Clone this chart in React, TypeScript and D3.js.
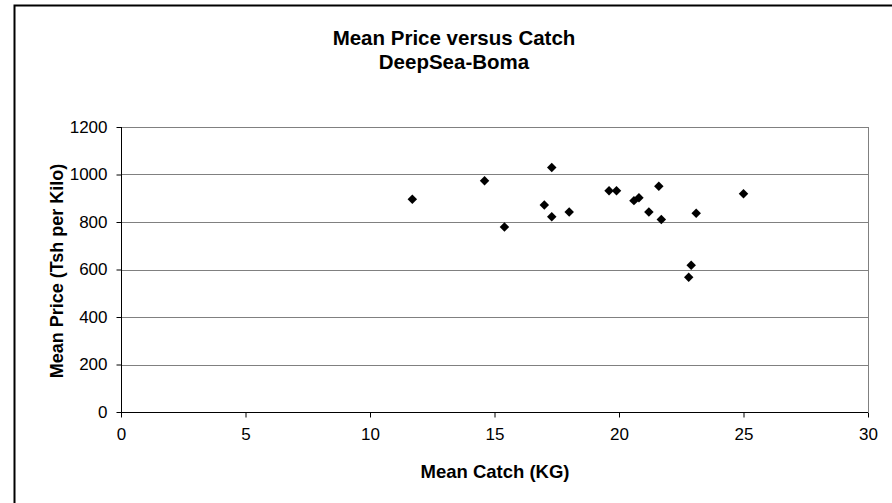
import React, { useEffect, useRef } from "react";
import * as d3 from "d3";

// mean catch (kg) and mean price (Tsh per kilo) per observation
const catchKg = [11.7, 14.6, 15.4, 17.3, 17.0, 17.3, 18.0, 19.6, 19.9, 20.6, 20.8, 21.2, 21.6, 21.7, 22.8, 22.9, 23.1, 25.0];
const priceTsh = [896, 974, 779, 1029, 872, 822, 842, 932, 932, 890, 902, 842, 951, 811, 567, 618, 837, 919];

const xTicks = [0, 5, 10, 15, 20, 25, 30];
const yTicks = [0, 200, 400, 600, 800, 1000, 1200];

const titleLines = ["Mean Price versus Catch", "DeepSea-Boma"];

const W = 892;
const H = 503;

export default function App() {
    const ref = useRef<SVGSVGElement>(null);

    useEffect(() => {
        const svg = d3.select(ref.current);
        svg.selectAll("*").remove();

        const margin = { left: 121, right: 24, top: 127, bottom: 91 };
        const w = W - margin.left - margin.right;
        const h = H - margin.top - margin.bottom;
        const font = "'Liberation Sans', Arial, sans-serif";

        // outer chart border (runs off the bottom/right edge)
        svg.append("rect")
            .attr("x", 14.5).attr("y", 5.5)
            .attr("width", W + 20).attr("height", H + 20)
            .attr("fill", "white")
            .attr("stroke", "black")
            .attr("stroke-width", 2);

        const xScale = d3.scaleLinear().domain([0, 30]).range([0, w]);
        const yScale = d3.scaleLinear().domain([0, 1200]).range([h, 0]);

        const g = svg.append("g").attr("transform", `translate(${margin.left}, ${margin.top})`);

        // gridlines
        g.selectAll("line.grid")
            .data(yTicks.filter(t => t > 0))
            .enter()
            .append("line")
            .attr("class", "grid")
            .attr("x1", 0).attr("x2", w)
            .attr("y1", d => Math.round(yScale(d)) + 0.5)
            .attr("y2", d => Math.round(yScale(d)) + 0.5)
            .attr("stroke", "#808080");

        // plot area right edge
        g.append("line")
            .attr("x1", w + 0.5).attr("x2", w + 0.5)
            .attr("y1", 0).attr("y2", h)
            .attr("stroke", "#808080");

        const xAxis = d3.axisBottom(xScale).tickValues(xTicks).tickFormat(d3.format("d")).tickSize(5).tickPadding(15);
        const yAxis = d3.axisLeft(yScale).tickValues(yTicks).tickFormat(d3.format("d")).tickSize(5).tickPadding(9);

        const xg = g.append("g")
            .attr("transform", `translate(0, ${Math.round(h) + 0.5})`)
            .call(xAxis);
        const yg = g.append("g")
            .attr("transform", "translate(0.5, 0)")
            .call(yAxis);

        [xg, yg].forEach(a => {
            a.select(".domain").attr("stroke", "black");
            a.selectAll(".tick line").attr("stroke", "black");
            a.selectAll("text")
                .attr("fill", "black")
                .style("font-family", font)
                .style("font-size", "17px");
        });
        xg.selectAll("text").attr("dy", "0.72em").attr("y", 15);
        xg.select(".domain").attr("d", `M0,0H${w}`);
        yg.select(".domain").attr("d", `M0,0V${h}`);

        // points
        const pts = catchKg.map((c, i) => ({ x: c, y: priceTsh[i] }));
        g.selectAll("path.pt")
            .data(pts)
            .enter()
            .append("path")
            .attr("class", "pt")
            .attr("d", d3.symbol(d3.symbolSquare, 45)())
            .attr("transform", d => `translate(${xScale(d.x)}, ${yScale(d.y)}) rotate(45)`)
            .attr("fill", "black");

        // titles
        svg.selectAll("text.title")
            .data(titleLines)
            .enter()
            .append("text")
            .attr("class", "title")
            .attr("x", 454)
            .attr("y", (d, i) => 45 + i * 24)
            .attr("text-anchor", "middle")
            .style("font-family", font)
            .style("font-weight", "bold")
            .style("font-size", "20.5px")
            .text(d => d);

        svg.append("text")
            .attr("x", 495)
            .attr("y", 478)
            .attr("text-anchor", "middle")
            .style("font-family", font)
            .style("font-weight", "bold")
            .style("font-size", "18.5px")
            .text("Mean Catch (KG)");

        svg.append("text")
            .attr("transform", `translate(63, 271) rotate(-90)`)
            .attr("text-anchor", "middle")
            .style("font-family", font)
            .style("font-weight", "bold")
            .style("font-size", "18px")
            .text("Mean Price (Tsh per Kilo)");
    }, []);

    return (
        <svg ref={ref} width={W} height={H}
            style={{ position: "absolute", left: 0, top: 0, background: "white" }} />
    );
}
